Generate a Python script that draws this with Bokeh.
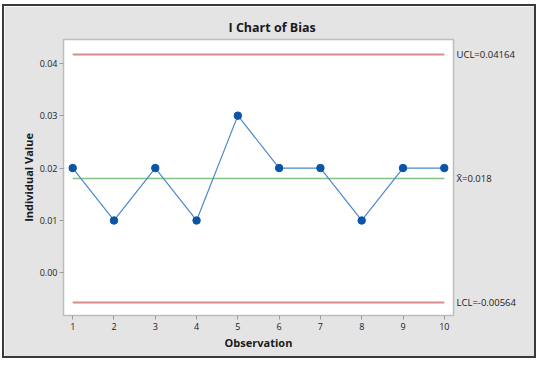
from bokeh.plotting import figure
from bokeh.models import Range1d, FixedTicker, NumeralTickFormatter, ColumnDataSource, LinearAxis
from bokeh.embed import file_html
from bokeh.resources import INLINE

observations = [1, 2, 3, 4, 5, 6, 7, 8, 9, 10]
bias = [0.02, 0.01, 0.02, 0.01, 0.03, 0.02, 0.02, 0.01, 0.02, 0.02]
ucl = 0.04164
center = 0.018
lcl = -0.00564
y_ticks = [0.0, 0.01, 0.02, 0.03, 0.04]
limit_labels = {ucl: "UCL=0.04164", center: "X\u0304=0.018", lcl: "LCL=-0.00564"}

FONT = "Open Sans"
BG = "#e4e4e4"

W, H = 534, 354
p = figure(width=W, height=H, output_backend="svg", toolbar_location=None,
           x_range=Range1d(0.777, 10.223), y_range=Range1d(-0.00812, 0.04452),
           min_border_left=59, min_border_right=85, min_border_top=33, min_border_bottom=45,
           title="I Chart of Bias", margin=(4, 0, 0, 2))
p.styles = {"border": "2px solid #3a3a3a"}
p.background_fill_color = "white"
p.border_fill_color = BG
p.outline_line_color = "#bdbdbd"
p.outline_line_width = 1.5
p.grid.visible = False

p.title.align = "left"
p.title.offset = 165
p.title.standoff = 8
p.title.text_font = FONT
p.title.text_font_size = "12.5px"
p.title.text_font_style = "bold"
p.title.text_color = "#1a1a1a"

src = ColumnDataSource(dict(x=observations, y=bias))

x0, x1 = observations[0], observations[-1]
p.line([x0, x1], [ucl, ucl], line_color="#d48c8c", line_width=2)
p.line([x0, x1], [lcl, lcl], line_color="#d48c8c", line_width=2)
p.line([x0, x1], [center, center], line_color="#84c284", line_width=1.5)
p.line("x", "y", source=src, line_color="#4a88cc", line_width=1.2)
p.scatter("x", "y", source=src, size=7.5, fill_color="#0b55a8", line_color="#0b55a8")

for ax in (p.xaxis[0], p.yaxis[0]):
    ax.axis_line_color = "#bdbdbd"
    ax.major_tick_line_color = "#9a9a9a"
    ax.major_tick_out = 4
    ax.major_tick_in = 0
    ax.minor_tick_line_color = None
    ax.major_label_text_font = FONT
    ax.major_label_text_font_size = "9px"
    ax.major_label_text_color = "#222222"
    ax.axis_label_text_font = FONT
    ax.axis_label_text_font_size = "11px"
    ax.axis_label_text_font_style = "bold"
    ax.axis_label_text_color = "#1a1a1a"

p.xaxis.ticker = FixedTicker(ticks=observations)
p.xaxis.axis_label = "Observation"
p.xaxis.major_label_standoff = 3
p.xaxis.axis_label_standoff = 2

p.yaxis.ticker = FixedTicker(ticks=y_ticks)
p.yaxis.formatter = NumeralTickFormatter(format="0.00")
p.yaxis.axis_label = "Individual Value"
p.yaxis.major_label_standoff = 2
p.yaxis.axis_label_standoff = 1

# control limit labels on the right
rax = LinearAxis(ticker=FixedTicker(ticks=[lcl, center, ucl]),
                 major_label_overrides=limit_labels)
rax.axis_line_color = None
rax.major_tick_line_color = None
rax.minor_tick_line_color = None
rax.major_tick_out = 0
rax.major_label_standoff = 3
rax.major_label_text_font = FONT
rax.major_label_text_font_size = "9.5px"
rax.major_label_text_color = "#222222"
p.add_layout(rax, "right")

open("out.html", "w").write(file_html(p, INLINE))
